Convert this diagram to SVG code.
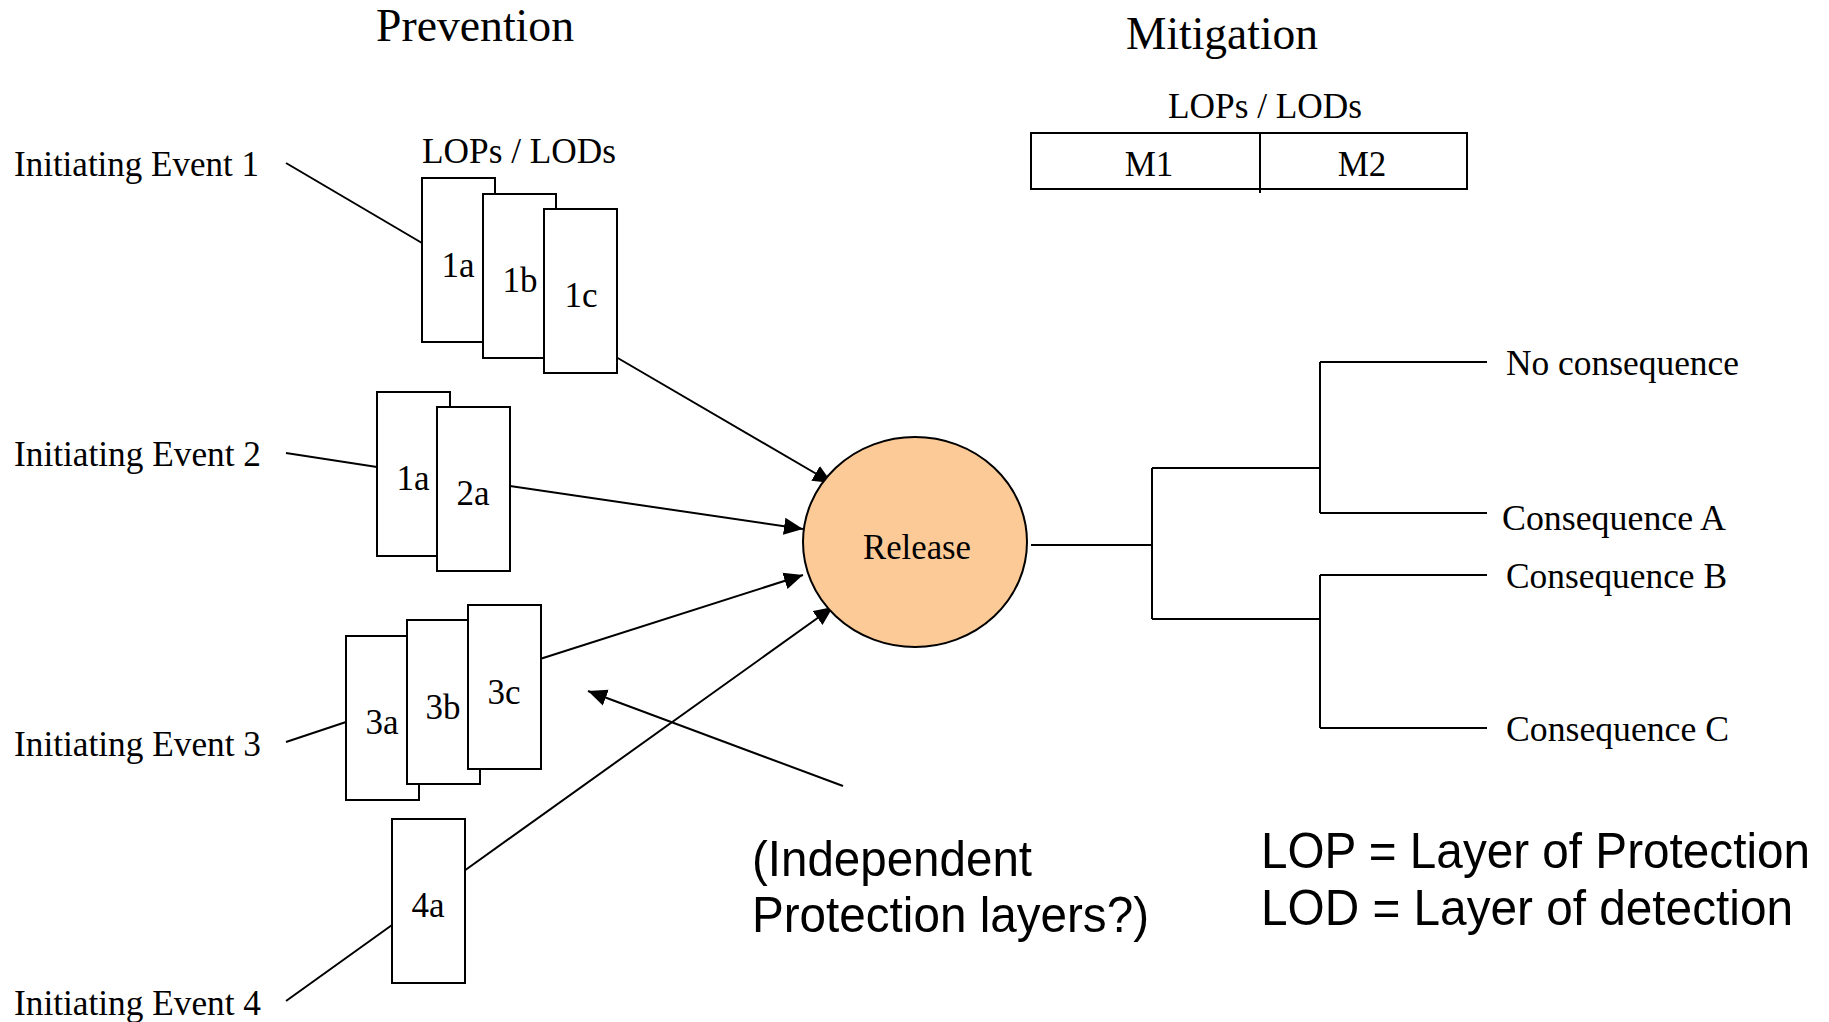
<svg xmlns="http://www.w3.org/2000/svg" width="1829" height="1022" viewBox="0 0 1829 1022">
<defs>
<style>
.serif{font-family:"Liberation Serif","Times New Roman",serif;fill:#000}
.sans{font-family:"Liberation Sans",Arial,sans-serif;fill:#000}
.lbl{font-size:35px}
.ttl{font-size:46px}
.big{font-size:50px}
.box{fill:#fff;stroke:#000;stroke-width:2}
.ln{stroke:#000;stroke-width:2;fill:none}
.mid{text-anchor:middle}
</style>
<marker id="ah" markerUnits="userSpaceOnUse" markerWidth="20" markerHeight="18" refX="19" refY="8.5" orient="auto" viewBox="0 0 20 17">
<path d="M0,0 L19,8.5 L0,17 z" fill="#000"/>
</marker>
</defs>
<rect width="1829" height="1022" fill="#fff"/>

<g id="titles">
<text class="serif ttl" x="376" y="41" textLength="198" lengthAdjust="spacingAndGlyphs">Prevention</text>
<text class="serif ttl" x="1126" y="49" textLength="192" lengthAdjust="spacingAndGlyphs">Mitigation</text>
<text class="serif lbl" x="422" y="163" textLength="194" lengthAdjust="spacingAndGlyphs">LOPs / LODs</text>
<text class="serif lbl" x="1168" y="118" textLength="194" lengthAdjust="spacingAndGlyphs">LOPs / LODs</text>
</g>

<g id="connectors">
<line class="ln" x1="286" y1="163" x2="422" y2="243"/>
<line class="ln" x1="286" y1="453" x2="377" y2="467"/>
<line class="ln" x1="286" y1="742" x2="346" y2="722"/>
<line class="ln" x1="286" y1="1001" x2="392" y2="925"/>
<line class="ln" x1="616" y1="357" x2="832" y2="483" marker-end="url(#ah)"/>
<line class="ln" x1="510" y1="486" x2="803" y2="529" marker-end="url(#ah)"/>
<line class="ln" x1="540" y1="659" x2="803" y2="575" marker-end="url(#ah)"/>
<line class="ln" x1="464" y1="871" x2="833" y2="607" marker-end="url(#ah)"/>
<line class="ln" x1="843" y1="786" x2="588" y2="691" stroke-width="3" marker-end="url(#ah)"/>
<path class="ln" d="M1031,545 H1152 M1152,468 V619 M1152,468 H1320 M1152,619 H1320 M1320,362 V513 M1320,362 H1487 M1320,513 H1487 M1320,575 V728 M1320,575 H1487 M1320,728 H1487"/>
</g>

<g id="ie1"><text class="serif lbl" x="14" y="176" textLength="245" lengthAdjust="spacingAndGlyphs">Initiating Event 1</text></g>
<g id="ie2"><text class="serif lbl" x="14" y="466" textLength="247" lengthAdjust="spacingAndGlyphs">Initiating Event 2</text></g>
<g id="ie3"><text class="serif lbl" x="14" y="756" textLength="247" lengthAdjust="spacingAndGlyphs">Initiating Event 3</text></g>
<g id="ie4"><text class="serif lbl" x="14" y="1015" textLength="247" lengthAdjust="spacingAndGlyphs">Initiating Event 4</text></g>

<g id="p1a"><rect class="box" x="422" y="178" width="73" height="164"/><text class="serif lbl mid" x="458" y="277">1a</text></g>
<g id="p1b"><rect class="box" x="483" y="194" width="73" height="164"/><text class="serif lbl mid" x="520" y="292">1b</text></g>
<g id="p1c"><rect class="box" x="544" y="209" width="73" height="164"/><text class="serif lbl mid" x="581" y="307">1c</text></g>

<g id="p2_1a"><rect class="box" x="377" y="392" width="73" height="164"/><text class="serif lbl mid" x="413" y="490">1a</text></g>
<g id="p2a"><rect class="box" x="437" y="407" width="73" height="164"/><text class="serif lbl mid" x="473" y="505">2a</text></g>

<g id="p3a"><rect class="box" x="346" y="636" width="73" height="164"/><text class="serif lbl mid" x="382" y="734">3a</text></g>
<g id="p3b"><rect class="box" x="407" y="620" width="73" height="164"/><text class="serif lbl mid" x="443" y="719">3b</text></g>
<g id="p3c"><rect class="box" x="468" y="605" width="73" height="164"/><text class="serif lbl mid" x="504" y="704">3c</text></g>

<g id="p4a"><rect class="box" x="392" y="819" width="73" height="164"/><text class="serif lbl mid" x="428" y="917">4a</text></g>

<g id="release">
<ellipse cx="915" cy="542" rx="112" ry="105" fill="#FCCA96" stroke="#000" stroke-width="2"/>
<text class="serif lbl mid" x="917" y="559" textLength="108" lengthAdjust="spacingAndGlyphs">Release</text>
</g>

<g id="mitigation">
<rect class="box" x="1031" y="133" width="436" height="56"/>
<line class="ln" x1="1260" y1="133" x2="1260" y2="193"/>
<text class="serif lbl mid" x="1149" y="176">M1</text>
<text class="serif lbl mid" x="1362" y="176">M2</text>
</g>

<g id="c0"><text class="serif lbl" x="1506" y="375" textLength="233" lengthAdjust="spacingAndGlyphs">No consequence</text></g>
<g id="cA"><text class="serif lbl" x="1502" y="530" textLength="224" lengthAdjust="spacingAndGlyphs">Consequence A</text></g>
<g id="cB"><text class="serif lbl" x="1506" y="588" textLength="221" lengthAdjust="spacingAndGlyphs">Consequence B</text></g>
<g id="cC"><text class="serif lbl" x="1506" y="741" textLength="223" lengthAdjust="spacingAndGlyphs">Consequence C</text></g>

<g id="note">
<text class="sans big" x="752" y="876" textLength="280" lengthAdjust="spacingAndGlyphs">(Independent</text>
<text class="sans big" x="752" y="932" textLength="397" lengthAdjust="spacingAndGlyphs">Protection layers?)</text>
</g>

<g id="legend">
<text class="sans big" x="1261" y="868" textLength="549" lengthAdjust="spacingAndGlyphs">LOP = Layer of Protection</text>
<text class="sans big" x="1261" y="925" textLength="532" lengthAdjust="spacingAndGlyphs">LOD = Layer of detection</text>
</g>
</svg>
